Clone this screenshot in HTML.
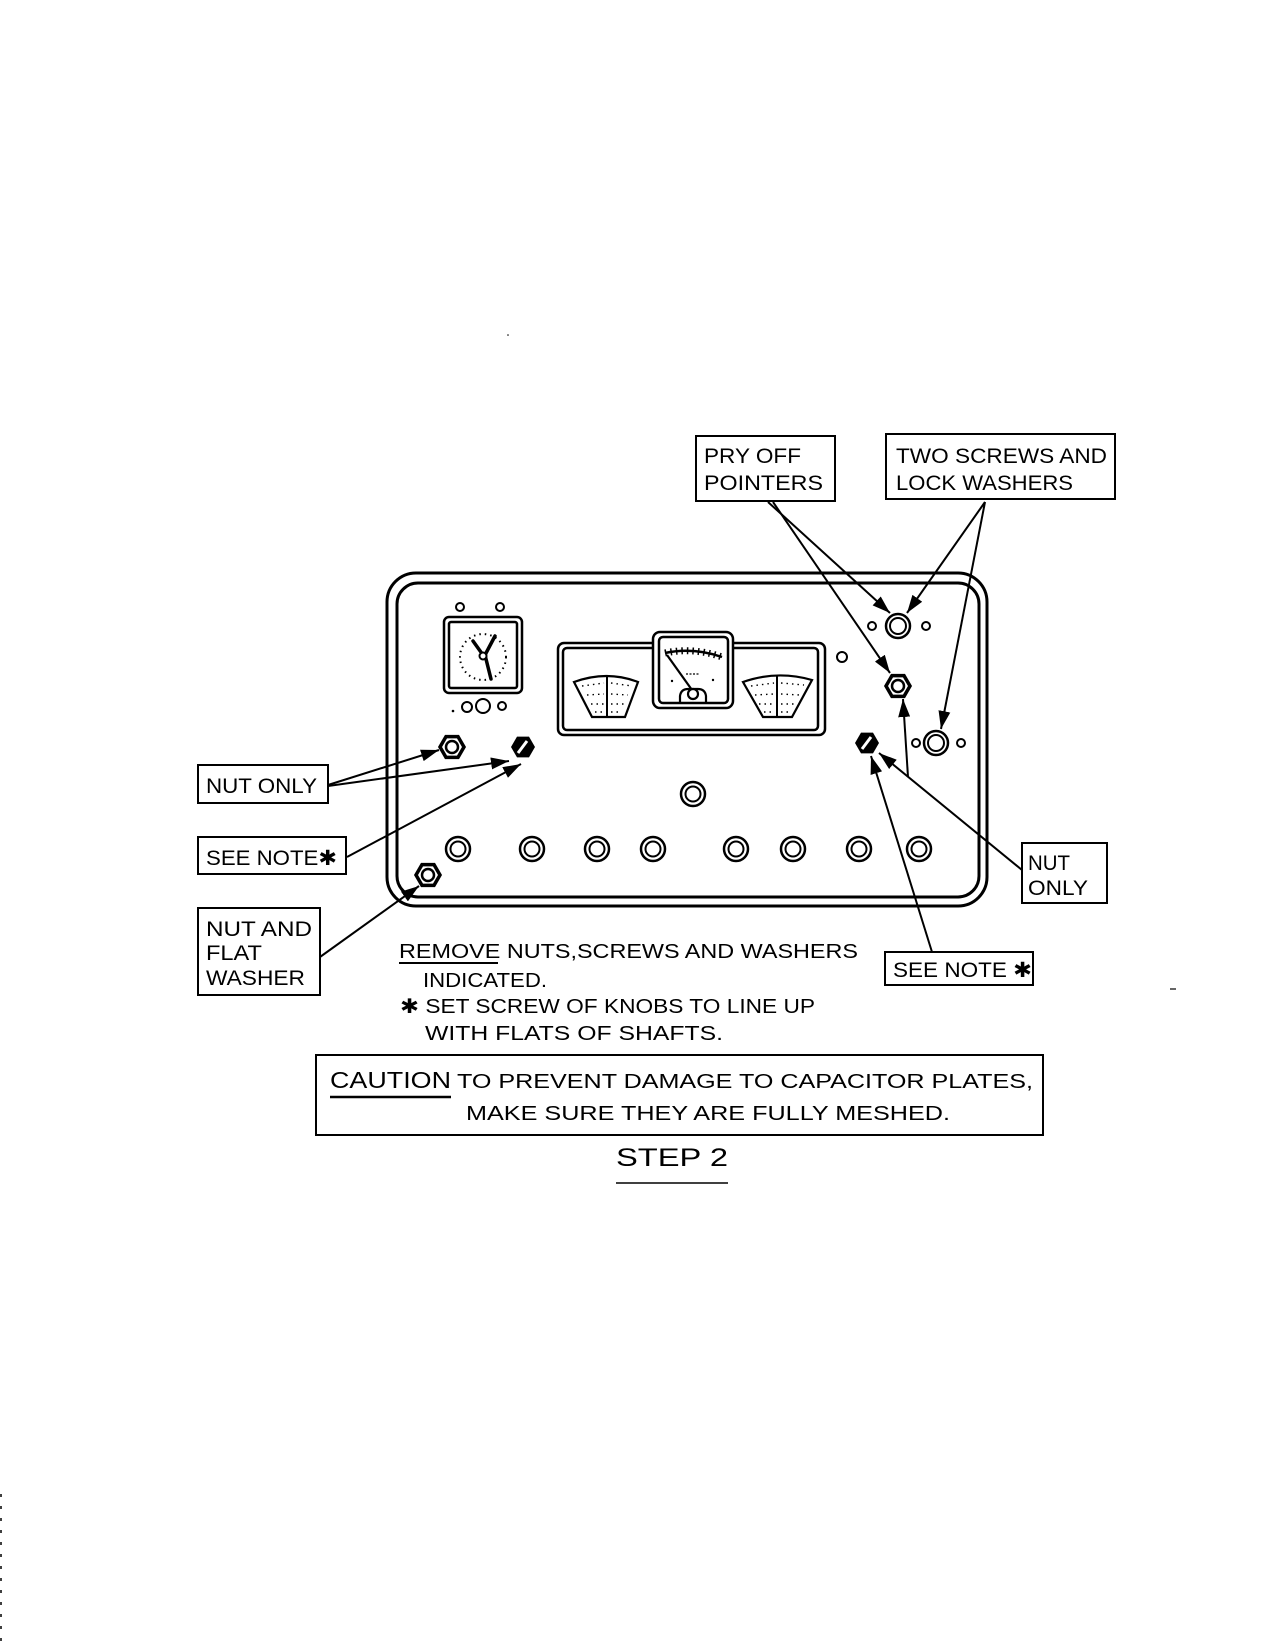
<!DOCTYPE html>
<html>
<head>
<meta charset="utf-8">
<style>
html,body{margin:0;padding:0;background:#fff;}
svg{display:block;}
text{font-family:"Liberation Sans","DejaVu Sans",sans-serif;fill:#000;}
</style>
</head>
<body>
<svg width="1275" height="1650" viewBox="0 0 1275 1650" xmlns="http://www.w3.org/2000/svg">
<defs>
<marker id="ah" markerUnits="userSpaceOnUse" markerWidth="20" markerHeight="12" refX="18" refY="6" orient="auto">
<path d="M0,0 L18,6 L0,12 z" fill="#000"/>
</marker>
</defs>
<rect width="1275" height="1650" fill="#fff"/>

<!-- stray marks -->
<circle cx="508" cy="335" r="0.8" fill="#000"/>
<line x1="1170" y1="989" x2="1176" y2="989" stroke="#000" stroke-width="1.2"/>
<line x1="1" y1="1494" x2="1" y2="1650" stroke="#000" stroke-width="1.5" stroke-dasharray="3 9"/>

<!-- Panel -->
<rect x="387" y="573" width="600" height="333" rx="29" ry="29" fill="none" stroke="#000" stroke-width="3"/>
<rect x="397" y="583" width="582" height="314" rx="21" ry="21" fill="none" stroke="#000" stroke-width="3"/>

<!-- clock -->
<circle cx="460" cy="607" r="4" fill="none" stroke="#000" stroke-width="2"/>
<circle cx="500" cy="607" r="4" fill="none" stroke="#000" stroke-width="2"/>
<rect x="444" y="617" width="78" height="76" rx="5" fill="none" stroke="#000" stroke-width="2.5"/>
<rect x="449" y="622" width="68" height="66" rx="2" fill="none" stroke="#000" stroke-width="2.5"/>
<circle cx="483" cy="657" r="23" fill="none" stroke="#000" stroke-width="2" stroke-dasharray="1.5 4"/>
<path d="M473,641 L483,655 M495,636 L485,655 L491,679" fill="none" stroke="#000" stroke-width="3.5" stroke-linecap="round"/>
<circle cx="483" cy="656" r="3.5" fill="#fff" stroke="#000" stroke-width="2"/>
<circle cx="453" cy="711" r="1.3" fill="#000"/>
<circle cx="467" cy="707" r="5" fill="none" stroke="#000" stroke-width="2"/>
<circle cx="483" cy="706" r="7" fill="none" stroke="#000" stroke-width="2"/>
<circle cx="502" cy="706" r="4" fill="none" stroke="#000" stroke-width="2"/>

<!-- meter panel -->
<rect x="558" y="643" width="267" height="92" rx="6" fill="none" stroke="#000" stroke-width="2.5"/>
<rect x="563" y="648" width="255" height="82" rx="4" fill="none" stroke="#000" stroke-width="2.5"/>
<!-- center meter -->
<rect x="653" y="632" width="80" height="76" rx="7" fill="#fff" stroke="#000" stroke-width="2.5"/>
<rect x="659" y="637" width="69" height="66" rx="4" fill="#fff" stroke="#000" stroke-width="2.5"/>
<path d="M665,653 Q693,647 722,657" fill="none" stroke="#000" stroke-width="2.5"/>
<path d="M665,653 Q693,647 722,657" fill="none" stroke="#000" stroke-width="7" stroke-dasharray="1.5 4"/>
<line x1="667" y1="655" x2="692" y2="690" stroke="#000" stroke-width="2.2"/>
<path d="M680,703 L680,696 Q681,689 688,689 L698,689 Q705,689 706,696 L706,703" fill="none" stroke="#000" stroke-width="2.2"/>
<circle cx="693" cy="694" r="5" fill="#fff" stroke="#000" stroke-width="2.2"/>
<circle cx="672" cy="681" r="1.2" fill="#000"/>
<circle cx="713" cy="680" r="1.2" fill="#000"/>
<line x1="686" y1="674" x2="700" y2="674" stroke="#000" stroke-width="1.3" stroke-dasharray="2 1.5"/>
<!-- left fan -->
<path d="M574,682 Q607,670 638,682 L625,717 L592,717 Z" fill="none" stroke="#000" stroke-width="2.2"/>
<line x1="607" y1="675" x2="607" y2="717" stroke="#000" stroke-width="2"/>
<g stroke="#000" stroke-width="1.4" stroke-dasharray="1.5 4">
<line x1="582" y1="686" x2="604" y2="683"/>
<line x1="611" y1="683" x2="632" y2="686"/>
<line x1="587" y1="695" x2="604" y2="694"/>
<line x1="611" y1="694" x2="628" y2="695"/>
<line x1="591" y1="704" x2="604" y2="704"/>
<line x1="611" y1="704" x2="624" y2="704"/>
<line x1="595" y1="712" x2="604" y2="712"/>
<line x1="611" y1="712" x2="621" y2="712"/>
</g>
<!-- right fan -->
<path d="M743,682 Q777,670 812,680 L792,717 L763,717 Z" fill="none" stroke="#000" stroke-width="2.2"/>
<line x1="777" y1="675" x2="777" y2="717" stroke="#000" stroke-width="2"/>
<g stroke="#000" stroke-width="1.4" stroke-dasharray="1.5 4">
<line x1="751" y1="686" x2="774" y2="683"/>
<line x1="781" y1="683" x2="804" y2="685"/>
<line x1="755" y1="695" x2="774" y2="694"/>
<line x1="781" y1="694" x2="800" y2="695"/>
<line x1="759" y1="704" x2="774" y2="704"/>
<line x1="781" y1="704" x2="796" y2="704"/>
<line x1="764" y1="712" x2="774" y2="712"/>
<line x1="781" y1="712" x2="792" y2="712"/>
</g>

<!-- right side items -->
<circle cx="842" cy="657" r="5" fill="none" stroke="#000" stroke-width="2"/>
<circle cx="872" cy="626" r="4" fill="none" stroke="#000" stroke-width="2"/>
<circle cx="926" cy="626" r="4" fill="none" stroke="#000" stroke-width="2"/>
<circle cx="898" cy="626" r="12" fill="none" stroke="#000" stroke-width="2.5"/>
<circle cx="898" cy="626" r="8" fill="none" stroke="#000" stroke-width="2"/>
<circle cx="916" cy="743" r="4" fill="none" stroke="#000" stroke-width="2"/>
<circle cx="961" cy="743" r="4" fill="none" stroke="#000" stroke-width="2"/>
<circle cx="936" cy="743" r="12" fill="none" stroke="#000" stroke-width="2.5"/>
<circle cx="936" cy="743" r="8" fill="none" stroke="#000" stroke-width="2"/>

<!-- open nuts -->
<g fill="none" stroke="#000" stroke-width="3.5">
<polygon points="464,747 458,757.4 446,757.4 440,747 446,736.6 458,736.6"/>
<polygon points="440,875 434,885.4 422,885.4 416,875 422,864.6 434,864.6"/>
<polygon points="910,686 904,696.4 892,696.4 886,686 892,675.6 904,675.6"/>
</g>
<circle cx="452" cy="747" r="6" fill="none" stroke="#000" stroke-width="2.5"/>
<circle cx="428" cy="875" r="6" fill="none" stroke="#000" stroke-width="2.5"/>
<circle cx="898" cy="686" r="6" fill="none" stroke="#000" stroke-width="2.5"/>
<!-- dark nuts -->
<polygon points="535,747 529,757.4 517,757.4 511,747 517,736.6 529,736.6" fill="#000"/>
<line x1="518" y1="753" x2="527" y2="741" stroke="#fff" stroke-width="3"/>
<polygon points="879,743 873,753.4 861,753.4 855,743 861,732.6 873,732.6" fill="#000"/>
<line x1="862" y1="749" x2="871" y2="737" stroke="#fff" stroke-width="3"/>

<!-- knobs -->
<g fill="none" stroke="#000">
<g stroke-width="2.5">
<circle cx="458" cy="849" r="12"/><circle cx="532" cy="849" r="12"/><circle cx="597" cy="849" r="12"/><circle cx="653" cy="849" r="12"/>
<circle cx="736" cy="849" r="12"/><circle cx="793" cy="849" r="12"/><circle cx="859" cy="849" r="12"/><circle cx="919" cy="849" r="12"/>
<circle cx="693" cy="794" r="12"/>
</g>
<g stroke-width="2">
<circle cx="458" cy="849" r="7.5"/><circle cx="532" cy="849" r="7.5"/><circle cx="597" cy="849" r="7.5"/><circle cx="653" cy="849" r="7.5"/>
<circle cx="736" cy="849" r="7.5"/><circle cx="793" cy="849" r="7.5"/><circle cx="859" cy="849" r="7.5"/><circle cx="919" cy="849" r="7.5"/>
<circle cx="693" cy="794" r="7.5"/>
</g>
</g>

<!-- arrows -->
<g stroke="#000" stroke-width="2" fill="none" marker-end="url(#ah)">
<line x1="328" y1="785" x2="439" y2="750"/>
<line x1="328" y1="786" x2="509" y2="761"/>
<line x1="347" y1="857" x2="521" y2="764"/>
<line x1="320" y1="957" x2="419" y2="886"/>
<line x1="768" y1="502" x2="890" y2="613"/>
<line x1="773" y1="502" x2="890" y2="673"/>
<line x1="985" y1="502" x2="907" y2="613"/>
<line x1="985" y1="502" x2="941" y2="729"/>
<line x1="908" y1="777" x2="903" y2="699"/>
<line x1="1022" y1="870" x2="879" y2="753"/>
<line x1="932" y1="952" x2="871" y2="756"/>
</g>

<!-- label boxes -->
<g fill="none" stroke="#000" stroke-width="2">
<rect x="696" y="436" width="139" height="65"/>
<rect x="886" y="434" width="229" height="65"/>
<rect x="198" y="765" width="130" height="38"/>
<rect x="198" y="837" width="148" height="37"/>
<rect x="198" y="908" width="122" height="87"/>
<rect x="1022" y="843" width="85" height="60"/>
<rect x="885" y="952" width="148" height="33"/>
<rect x="316" y="1055" width="727" height="80"/>
</g>

<!-- label text -->
<g font-size="21">
<text x="704" y="463" textLength="97" lengthAdjust="spacingAndGlyphs">PRY OFF</text>
<text x="704" y="490" textLength="119" lengthAdjust="spacingAndGlyphs">POINTERS</text>
<text x="896" y="463" textLength="211" lengthAdjust="spacingAndGlyphs">TWO  SCREWS AND</text>
<text x="896" y="490" textLength="177" lengthAdjust="spacingAndGlyphs">LOCK WASHERS</text>
<text x="206" y="793" textLength="111" lengthAdjust="spacingAndGlyphs">NUT ONLY</text>
<text x="206" y="865" textLength="131" lengthAdjust="spacingAndGlyphs">SEE NOTE✱</text>
<text x="206" y="936" textLength="106" lengthAdjust="spacingAndGlyphs">NUT AND</text>
<text x="206" y="960" textLength="56" lengthAdjust="spacingAndGlyphs">FLAT</text>
<text x="206" y="985" textLength="99" lengthAdjust="spacingAndGlyphs">WASHER</text>
<text x="1028" y="870" textLength="42" lengthAdjust="spacingAndGlyphs">NUT</text>
<text x="1028" y="895" textLength="60" lengthAdjust="spacingAndGlyphs">ONLY</text>
<text x="893" y="977" textLength="139" lengthAdjust="spacingAndGlyphs">SEE NOTE ✱</text>
</g>

<!-- instructions -->
<g font-size="20">
<text x="399" y="958" textLength="459" lengthAdjust="spacingAndGlyphs">REMOVE NUTS,SCREWS AND WASHERS</text>
<text x="423" y="987" textLength="124" lengthAdjust="spacingAndGlyphs">INDICATED.</text>
<text x="400" y="1013" textLength="415" lengthAdjust="spacingAndGlyphs">✱ SET SCREW OF KNOBS TO LINE UP</text>
<text x="425" y="1040" textLength="298" lengthAdjust="spacingAndGlyphs">WITH  FLATS OF SHAFTS.</text>
</g>
<line x1="399" y1="963" x2="498" y2="963" stroke="#000" stroke-width="2"/>

<!-- caution -->
<text x="330" y="1088" font-size="23" textLength="121" lengthAdjust="spacingAndGlyphs">CAUTION</text>
<line x1="330" y1="1097" x2="451" y2="1097" stroke="#000" stroke-width="2.5"/>
<text x="457" y="1088" font-size="20" textLength="576" lengthAdjust="spacingAndGlyphs">TO PREVENT DAMAGE TO  CAPACITOR PLATES,</text>
<text x="466" y="1120" font-size="20" textLength="484" lengthAdjust="spacingAndGlyphs">MAKE  SURE  THEY  ARE  FULLY  MESHED.</text>

<!-- step -->
<text x="616" y="1166" font-size="25" textLength="112" lengthAdjust="spacingAndGlyphs">STEP  2</text>
<line x1="616" y1="1183" x2="728" y2="1183" stroke="#000" stroke-width="1.5"/>
</svg>
</body>
</html>
